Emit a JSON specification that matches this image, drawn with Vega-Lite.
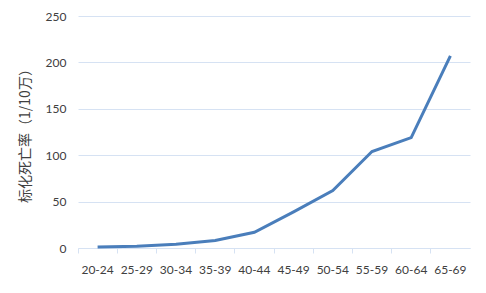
{
  "$schema": "https://vega.github.io/schema/vega-lite/v6.json",
  "width": 392,
  "height": 232,
  "autosize": "none",
  "padding": {"left": 78, "top": 16, "right": 16, "bottom": 45},
  "background": "white",
  "data": {"values": [
    {"age": "20-24", "rate": 1},
    {"age": "25-29", "rate": 2},
    {"age": "30-34", "rate": 4},
    {"age": "35-39", "rate": 8},
    {"age": "40-44", "rate": 17},
    {"age": "45-49", "rate": 39},
    {"age": "50-54", "rate": 62},
    {"age": "55-59", "rate": 104},
    {"age": "60-64", "rate": 119},
    {"age": "65-69", "rate": 207}
  ]},
  "mark": {"type": "line", "color": "#4A7EBB", "strokeWidth": 3},
  "encoding": {
    "x": {
      "field": "age", "type": "nominal", "sort": null,
      "scale": {"type": "band", "paddingInner": 0, "paddingOuter": 0},
      "axis": {
        "title": null, "labelAngle": 0, "bandPosition": 0, "grid": false,
        "domainColor": "#D6E2F3", "tickColor": "#D6E2F3", "tickSize": 5,
        "labelFont": "Lato", "labelFontSize": 12, "labelColor": "#404040",
        "labelPadding": 11, "labelAlign": "center"
      }
    },
    "y": {
      "field": "rate", "type": "quantitative",
      "scale": {"domain": [0, 250], "nice": false},
      "axis": {
        "values": [0, 50, 100, 150, 200, 250],
        "title": "标化死亡率（1/10万）",
        "titleFont": "Noto Sans CJK SC", "titleFontSize": 14, "titleFontWeight": "normal",
        "titleColor": "#404040", "titlePadding": 13,
        "domain": false, "ticks": false,
        "gridColor": "#D6E2F3", "gridWidth": 1,
        "labelFont": "Lato", "labelFontSize": 12, "labelColor": "#404040",
        "labelPadding": 12
      }
    }
  },
  "config": {"view": {"stroke": null}}
}
